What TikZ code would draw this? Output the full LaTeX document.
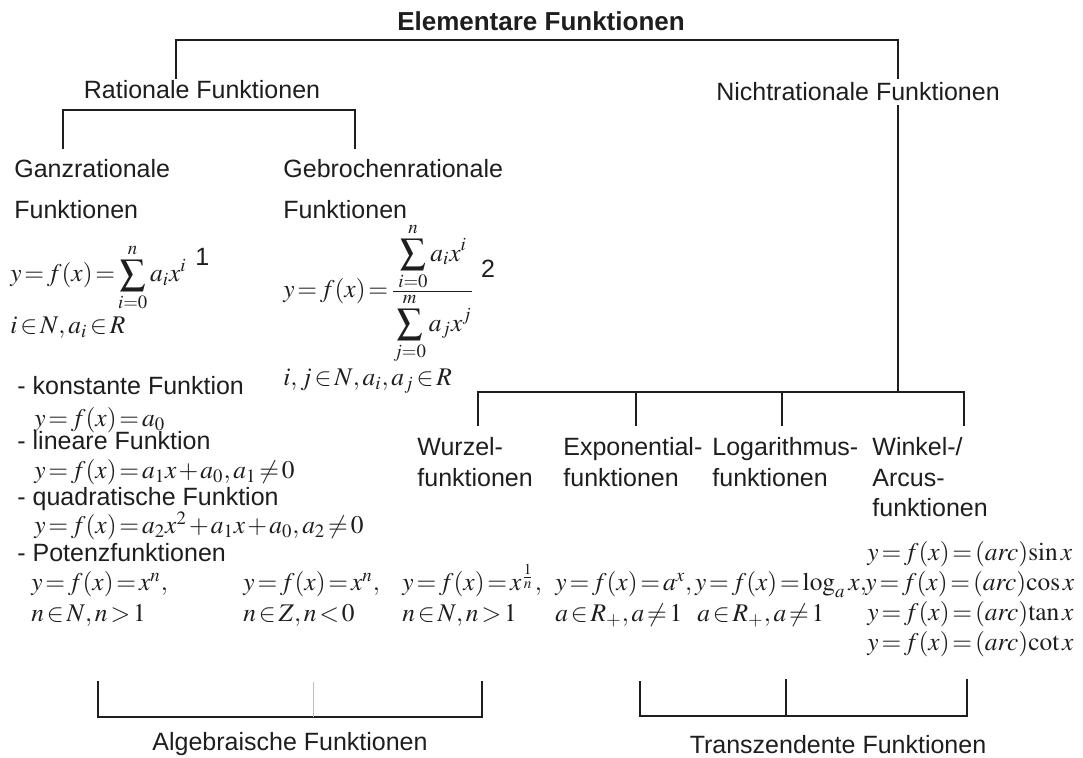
\documentclass[tikz,border=0pt]{standalone}
\usepackage{mathptmx}
\usepackage[no-math]{fontspec}
\setmainfont{Liberation Sans}
\usetikzlibrary{positioning}
\definecolor{inkgray}{RGB}{30,30,30}
\tikzset{
  ttl/.style={anchor=base, inner sep=0pt, text=inkgray, font=\fontsize{13}{15}\selectfont\bfseries},
  hd/.style={anchor=base, inner sep=0pt, text=inkgray, font=\fontsize{12.5}{15}\selectfont},
  lbl/.style={anchor=base west, inner sep=0pt, text=inkgray, font=\fontsize{12.5}{15}\selectfont},
  frm/.style={anchor=base west, inner sep=0pt, text=inkgray, font=\fontsize{12.7}{16}\selectfont,
    execute at begin node={\thickmuskip=2mu\medmuskip=1.5mu}},
  brk/.style={draw=inkgray, line width=1.1pt, line cap=rect},
  faint/.style={draw=black!25, line width=0.3pt}
}

\begin{document}
\begin{tikzpicture}[x=0.5pt, y=-0.5pt]
    \useasboundingbox (0,0) rectangle (1083,758);
    % --- title and top bracket ---
    \node[ttl] (elem) at (541,31) {Elementare Funktionen};
    \node[hd] (rat) at (202,99) {Rationale Funktionen};
    \node[hd] (nrat) at (858,101) {Nichtrationale Funktionen};
    \coordinate (elemL) at (176,78);
    \coordinate (elemR) at (898,78);
    \coordinate (barT) at (0,40);
    \draw[brk] (elemL) -- (elemL |- barT) -- (elemR |- barT) -- (elemR);
    % --- rational branch ---
    \coordinate (ratL) at (63,148);
    \coordinate (ratR) at (355,148);
    \coordinate (barR) at (0,110);
    \draw[brk] (ratL) -- (ratL |- barR) -- (ratR |- barR) -- (ratR);
    \node[lbl] (ganz1) at (14,178) {Ganzrationale};
    \node[lbl] (ganz2) at (14,219) {Funktionen};
    \node[lbl] (gebr1) at (283,178) {Gebrochenrationale};
    \node[lbl] (gebr2) at (283,219) {Funktionen};
    \node[frm] (f1) at (10,282) {$y=f(x)=\displaystyle\sum_{i=0}^{n}a_ix^i$};
    \node[lbl] (n1) at ([xshift=4pt, yshift=8pt]f1.base east) {1};
    \node[frm] (f1c) at (10,334) {$i\in N, a_i\in R$};
    \node[frm] (f2) at (283,298)
      {$y=f(x)=\frac{\displaystyle\sum_{i=0}^{n}a_ix^i}{\displaystyle\sum_{j=0}^{m}a_jx^j}$};
    \node[lbl] (n2) at ([xshift=3pt, yshift=10pt]f2.base east) {2};
    \node[frm] (f2c) at (283,386) {$i,j\in N, a_i, a_j\in R$};
    % --- special cases ---
    \node[lbl] (kon) at (17,395) {- konstante Funktion};
    \node[frm] (konf) at (34,427) {$y=f(x)=a_0$};
    \node[lbl] (lin) at (17,450) {- lineare Funktion};
    \node[frm] (linf) at (34,479) {$y=f(x)=a_1x+a_0, a_1\neq 0$};
    \node[lbl] (qua) at (17,506) {- quadratische Funktion};
    \node[frm] (quaf) at (34,534) {$y=f(x)=a_2x^2+a_1x+a_0, a_2\neq 0$};
    \node[lbl] (pot) at (17,562) {- Potenzfunktionen};
    \node[frm] (p1) at (31,591) {$y=f(x)=x^n,$};
    \node[frm] (p1c) at (31,622) {$n\in N, n>1$};
    \node[frm] (p2) at (243,591) {$y=f(x)=x^n,$};
    \node[frm] (p2c) at (243,622) {$n\in Z, n<0$};
    \node[frm] (p3) at (402,591) {$y=f(x)=x^{\frac{1}{n}},$};
    \node[frm] (p3c) at (402,622) {$n\in N, n>1$};
    % --- non-rational branch ---
    \coordinate (trunkT) at (898,106);
    \coordinate (trunkB) at (898,392);
    \draw[brk] (trunkT) -- (trunkB);
    \coordinate (brL) at (478,392);
    \coordinate (brR) at (964,392);
    \draw[brk] (brL) -- (brR);
    \foreach \x/\nm/\lx/\la/\lb in {478/wur/417/Wurzel-/funktionen,
        636/expo/563/Exponential-/funktionen, 782/loga/712/Logarithmus-/funktionen,
        964/wink/872/Winkel-\slash/Arcus-}{
      \coordinate (\nm top) at (\x,392);
      \coordinate (\nm bot) at (\x,425);
      \draw[brk] (\nm top) -- (\nm bot);
      \node[lbl] (\nm1) at (\lx,456) {\la};
      \node[lbl] (\nm2) at (\lx,487) {\lb};
    }
    \node[lbl] (wink3) at (872,517) {funktionen};
    \node[frm] (ex) at (555,591) {$y=f(x)=a^x, y=f(x)=\log_a x,$};
    \node[frm] (exc) at (555,622) {$a\in R_+, a\neq 1$};
    \node[frm] (lgc) at (697,622) {$a\in R_+, a\neq 1$};
    \node[frm] (sin) at (867,561) {$y=f(x)=(arc)\mathrm{sin}\,x$};
    \node[frm] (cos) at (865,591) {$y=f(x)=(arc)\mathrm{cos}\,x$};
    \node[frm] (tan) at (867,621) {$y=f(x)=(arc)\mathrm{tan}\,x$};
    \node[frm] (cot) at (867,651) {$y=f(x)=(arc)\mathrm{cot}\,x$};
    % --- bottom brackets ---
    \coordinate (algL) at (98,682);
    \coordinate (algR) at (482,682);
    \coordinate (barA) at (0,717);
    \draw[brk] (algL) -- (algL |- barA) -- (algR |- barA) -- (algR);
    \coordinate (algM) at (313,682);
    \draw[faint] (algM) -- (algM |- barA);
    \node[hd] (alg) at (290,751) {Algebraische Funktionen};
    \coordinate (trzL) at (640,682);
    \coordinate (trzM) at (786,680);
    \coordinate (trzR) at (967,680);
    \coordinate (barZ) at (0,716);
    \draw[brk] (trzL) -- (trzL |- barZ) -- (trzR |- barZ) -- (trzR);
    \draw[brk] (trzM) -- (trzM |- barZ);
    \node[hd] (trz) at (838,754) {Transzendente Funktionen};
\end{tikzpicture}
\end{document}
